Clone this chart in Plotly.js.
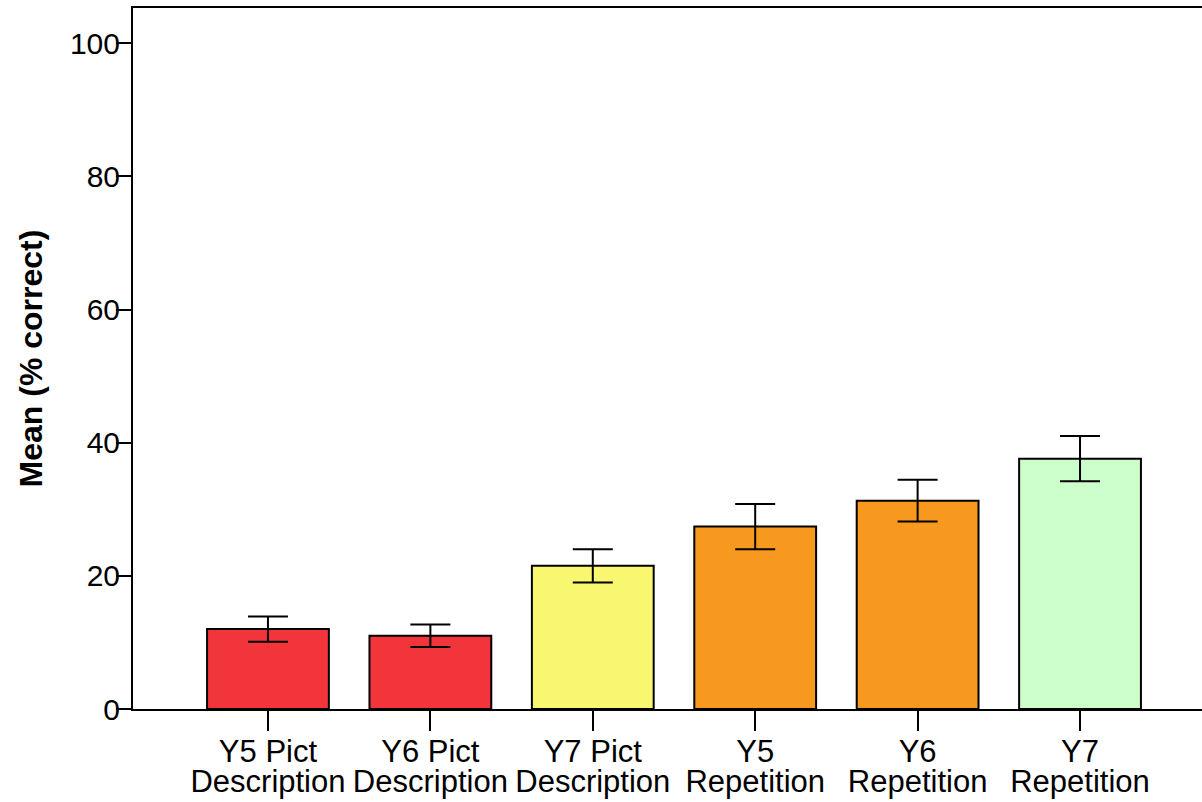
<!DOCTYPE html>
<html>
<head>
<meta charset="utf-8">
<script src="https://cdn.plot.ly/plotly-3.0.1.min.js"></script>
<style>html,body{margin:0;padding:0;background:#fff;}#chart{width:1202px;height:802px;}</style>
</head>
<body>
<div id="chart"></div>
<script>
const labelLine1 = ["Y5 Pict", "Y6 Pict", "Y7 Pict", "Y5", "Y6", "Y7"];
const labelLine2 = ["Description", "Description", "Description", "Repetition", "Repetition", "Repetition"];
const means = [12.0, 11.0, 21.5, 27.4, 31.3, 37.6];
const errors = [1.9, 1.7, 2.5, 3.4, 3.15, 3.4];
const barColors = ["#F2353A", "#F2353A", "#F9F770", "#F7991F", "#F7991F", "#CCFFCC"];
const yTicks = [0, 20, 40, 60, 80, 100];

const xIdx = labelLine1.map((c, i) => i);
const xRange = [-0.831, 5.751];

const trace = {
  type: "bar",
  x: xIdx,
  y: means,
  width: 0.75,
  marker: {color: barColors, line: {color: "#000", width: 2}},
  error_y: {type: "data", array: errors, visible: true, color: "#000", thickness: 2, width: 20},
  hoverinfo: "skip"
};
// invisible companion trace so the second label row (xaxis2) is drawn
const ghost = {
  type: "scatter", x: xIdx, y: means, xaxis: "x2", yaxis: "y",
  mode: "markers", marker: {opacity: 0}, hoverinfo: "skip"
};

const layout = {
  width: 1202, height: 802,
  margin: {l: 133, r: 0, t: 8, b: 93},
  paper_bgcolor: "#fff", plot_bgcolor: "#fff",
  showlegend: false,
  font: {family: "Liberation Sans, Arial, sans-serif", color: "#000"},
  xaxis: {
    range: xRange,
    tickmode: "array", tickvals: xIdx, ticktext: labelLine1,
    ticks: "outside", ticklen: 20, tickwidth: 2, tickcolor: "#000",
    ticklabelstandoff: -6,
    showline: true, linecolor: "#000", linewidth: 2, mirror: true,
    showgrid: false, zeroline: false,
    tickfont: {size: 31, color: "#000"}
  },
  xaxis2: {
    overlaying: "x", anchor: "y", side: "bottom",
    range: xRange,
    tickmode: "array", tickvals: xIdx, ticktext: labelLine2,
    ticks: "outside", ticklen: 20, tickwidth: 0, tickcolor: "rgba(0,0,0,0)",
    ticklabelstandoff: 25,
    showline: false, showgrid: false, zeroline: false,
    tickfont: {size: 31, color: "#000"}
  },
  yaxis: {
    range: [0, 105.3],
    tickmode: "array", tickvals: yTicks,
    ticks: "outside", ticklen: 15, tickwidth: 2, tickcolor: "#000",
    ticklabelstandoff: -10,
    showline: true, linecolor: "#000", linewidth: 2,
    showgrid: false, zeroline: false,
    tickfont: {size: 30, color: "#000"},
    title: {text: "<b>Mean (% correct)</b>", font: {size: 32, color: "#000"}, standoff: 18}
  }
};

Plotly.newPlot("chart", [trace, ghost], layout, {displayModeBar: false, staticPlot: true});
</script>
</body>
</html>
